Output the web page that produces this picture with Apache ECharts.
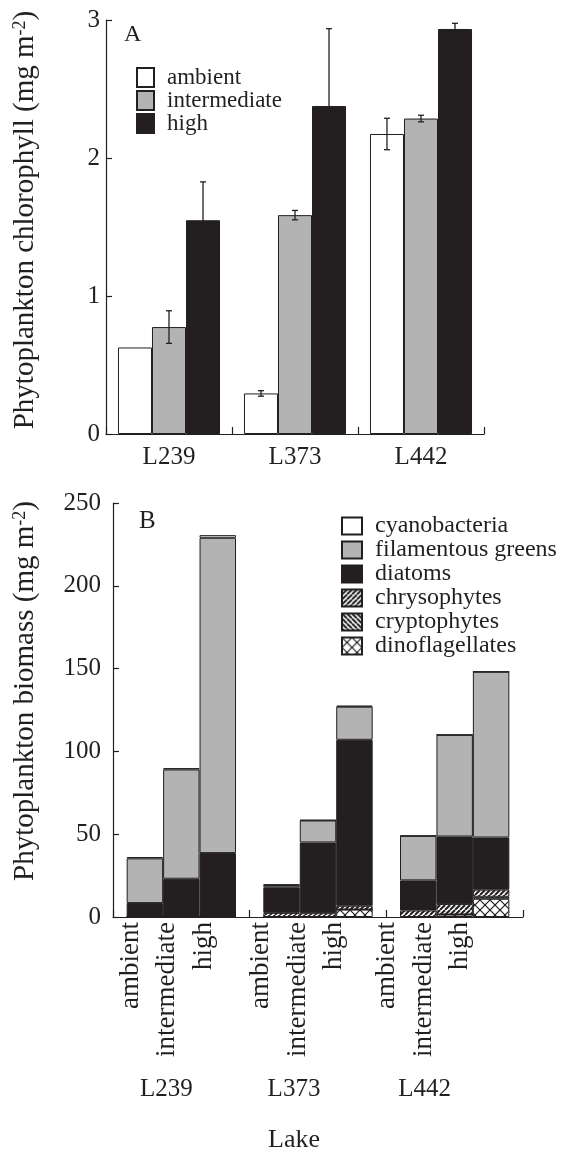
<!DOCTYPE html>
<html><head><meta charset="utf-8">
<script src="https://cdn.jsdelivr.net/npm/echarts@6/dist/echarts.min.js"></script>
<style>html,body{margin:0;padding:0;background:#fff}#c{width:564px;height:1151px}</style>
</head><body><div id="c"></div>
<script>
// ---------- DATA ----------
const lakes = ['L239', 'L373', 'L442'];
const treatments = ['ambient', 'intermediate', 'high'];

// Panel A: phytoplankton chlorophyll (mg m-2), per lake
const chlAmbient      = [0.627, 0.294, 2.174];
const chlIntermediate = [0.775, 1.586, 2.286];
const chlHigh         = [1.549, 2.377, 2.935];
const errAmbient      = [0, 0.02, 0.114];
const errIntermediate = [0.118, 0.034, 0.024];
const errHigh         = [0.278, 0.56, 0.041];
const chlTicks = [0, 1, 2, 3];

// Panel B: biomass (mg m-2); order L239 amb,int,high | L373 amb,int,high | L442 amb,int,high
const cyanobacteria      = [0.8, 0.8, 1.6, 0.3, 0.3, 0.6, 0, 0, 0];
const filamentousGreens  = [27, 66, 190.4, 1.4, 13.3, 20, 26.9, 61.4, 100.1];
const diatoms            = [8.4, 23.1, 38.6, 15.4, 42.7, 100.2, 18.1, 40.8, 31.5];
const chrysophytes       = [0, 0, 0, 2.5, 2.3, 2.3, 4, 6.3, 4.3];
const cryptophytes       = [0, 0, 0, 0, 0, 0, 0, 0, 1.2];
const dinoflagellates    = [0, 0, 0, 0, 0, 4.5, 0, 1.5, 11];
const biomassTicks = [0, 50, 100, 150, 200, 250];
const taxa = ['cyanobacteria', 'filamentous greens', 'diatoms', 'chrysophytes', 'cryptophytes', 'dinoflagellates'];

// ---------- STYLE / LAYOUT ----------
const INK = '#231f20';
const GRAY = '#b3b3b3';
const SERIF = '"Liberation Serif", "Times New Roman", serif';
const catGapA = 0.19, catGapB = 0.20;
const treatLabelShift = [-14, -20, -31]; // px shift of rotated treatment labels per lake
const lakeLabelPad = [30, 48, 60];

function makePattern(kind) {
  const p = kind === 'cross' ? 10 : 5;
  const cv = document.createElement('canvas');
  cv.width = p; cv.height = p;
  const g = cv.getContext('2d');
  g.fillStyle = '#fff'; g.fillRect(0, 0, p, p);
  g.strokeStyle = INK; g.lineWidth = kind === 'cross' ? 1.2 : 2;
  const draw = (up) => {
    for (let k = -1; k <= 1; k++) {
      g.beginPath();
      if (up) { g.moveTo(k * p, p); g.lineTo(k * p + p, 0); }
      else { g.moveTo(k * p, 0); g.lineTo(k * p + p, p); }
      g.stroke();
    }
  };
  if (kind === 'up' || kind === 'cross') draw(true);
  if (kind === 'down' || kind === 'cross') draw(false);
  return { image: cv, repeat: 'repeat' };
}

const taxonValues = {
  'cyanobacteria': cyanobacteria,
  'filamentous greens': filamentousGreens,
  'diatoms': diatoms,
  'chrysophytes': chrysophytes,
  'cryptophytes': cryptophytes,
  'dinoflagellates': dinoflagellates
};
const taxonFill = {
  'cyanobacteria': '#ffffff',
  'filamentous greens': GRAY,
  'diatoms': INK,
  'chrysophytes': makePattern('up'),
  'cryptophytes': makePattern('down'),
  'dinoflagellates': makePattern('cross')
};
const stackOrder = ['dinoflagellates', 'cryptophytes', 'chrysophytes', 'diatoms', 'filamentous greens', 'cyanobacteria'];

const chlMeans = [chlAmbient, chlIntermediate, chlHigh];
const chlErrs = [errAmbient, errIntermediate, errHigh];
const chlFill = ['#ffffff', GRAY, INK];

const series = [];
// Panel A bars
treatments.forEach((t, ti) => {
  series.push({
    type: 'bar', name: t, xAxisIndex: 0, yAxisIndex: 0,
    barGap: '0%', barCategoryGap: (catGapA * 100) + '%',
    itemStyle: { color: chlFill[ti], borderColor: INK, borderWidth: 1 },
    data: chlMeans[ti], z: 2
  });
});
// Panel A error bars
const errData = [];
treatments.forEach((t, ti) => lakes.forEach((l, li) => errData.push([li, chlMeans[ti][li], chlErrs[ti][li], ti])));
series.push({
  type: 'custom', xAxisIndex: 0, yAxisIndex: 0, z: 5, silent: true,
  encode: { x: 0, y: 1 },
  data: errData,
  renderItem: function (params, api) {
    const l = api.value(0), m = api.value(1), e = api.value(2), t = api.value(3);
    if (!e) return;
    const band = api.size([1, 0])[0];
    const gw = band * (1 - catGapA), bw = gw / 3;
    const x = api.coord([l, 0])[0] - gw / 2 + bw * (t + 0.5);
    const y1 = api.coord([l, m + e])[1], y2 = api.coord([l, m - e])[1];
    const c = 3, st = { stroke: INK, lineWidth: 1.3 };
    return { type: 'group', children: [
      { type: 'line', shape: { x1: x, y1: y1, x2: x, y2: y2 }, style: st },
      { type: 'line', shape: { x1: x - c, y1: y1, x2: x + c, y2: y1 }, style: st },
      { type: 'line', shape: { x1: x - c, y1: y2, x2: x + c, y2: y2 }, style: st }
    ]};
  }
});
// Panel B: invisible zero series carrying treatment labels (first in each stack)
treatments.forEach((t, ti) => {
  series.push({
    type: 'bar', name: '_labels', stack: t, xAxisIndex: 1, yAxisIndex: 1,
    barGap: '0%', barCategoryGap: (catGapB * 100) + '%',
    itemStyle: { color: 'rgba(0,0,0,0)', borderWidth: 0 },
    silent: true,
    data: lakes.map((l, li) => ({
      value: 0,
      label: {
        show: true, formatter: t, rotate: 90,
        position: [18 + treatLabelShift[li], 5],
        align: 'right', verticalAlign: 'middle',
        fontFamily: SERIF, fontSize: 27, color: INK
      }
    }))
  });
});
// Panel B stacked taxa
stackOrder.forEach((tx) => {
  treatments.forEach((t, ti) => {
    series.push({
      type: 'bar', name: tx, stack: t, xAxisIndex: 1, yAxisIndex: 1,
      barGap: '0%', barCategoryGap: (catGapB * 100) + '%',
      itemStyle: { color: taxonFill[tx], borderColor: INK, borderWidth: 1 },
      data: lakes.map((l, li) => taxonValues[tx][li * 3 + ti])
    });
  });
});

const axisLineStyle = { show: true, lineStyle: { color: INK, width: 1.2 } };
const tickStyle = { show: true, inside: true, length: 7, lineStyle: { color: INK, width: 1.2 } };

const option = {
  animation: false,
  backgroundColor: '#fff',
  textStyle: { fontFamily: SERIF, color: INK },
  grid: [
    { left: 106, top: 20, width: 378, height: 414, outerBoundsMode: 'none', containLabel: false },
    { left: 113, top: 503, width: 410, height: 414, outerBoundsMode: 'none', containLabel: false }
  ],
  xAxis: [
    {
      type: 'category', gridIndex: 0, data: lakes,
      axisLine: axisLineStyle, axisTick: { ...tickStyle, alignWithLabel: false, interval: 0 },
      axisLabel: { fontFamily: SERIF, fontSize: 25, color: INK, margin: 11 },
      splitLine: { show: false }
    },
    {
      type: 'category', gridIndex: 1, data: lakes,
      axisLine: axisLineStyle, axisTick: { ...tickStyle, alignWithLabel: false, interval: 0 },
      axisLabel: {
        fontFamily: SERIF, fontSize: 25, color: INK, margin: 160,
        formatter: (v, i) => '{s' + i + '|' + v + '}',
        rich: {
          s0: { fontFamily: SERIF, fontSize: 25, color: INK, padding: [0, lakeLabelPad[0], 0, 0] },
          s1: { fontFamily: SERIF, fontSize: 25, color: INK, padding: [0, lakeLabelPad[1], 0, 0] },
          s2: { fontFamily: SERIF, fontSize: 25, color: INK, padding: [0, lakeLabelPad[2], 0, 0] }
        }
      },
      name: 'Lake', nameLocation: 'middle', nameGap: 210,
      nameTextStyle: { fontFamily: SERIF, fontSize: 26, color: INK, padding: [0, 48, 0, 0] },
      splitLine: { show: false }
    }
  ],
  yAxis: [
    {
      type: 'value', gridIndex: 0, min: chlTicks[0], max: chlTicks[chlTicks.length - 1], interval: 1,
      axisLine: axisLineStyle, axisTick: { ...tickStyle, length: 6 },
      axisLabel: { fontFamily: SERIF, fontSize: 25, color: INK, margin: 6 },
      splitLine: { show: false },
      name: 'Phytoplankton chlorophyll (mg m{sup|-2})', nameLocation: 'middle', nameGap: 66,
      nameTextStyle: {
        fontFamily: SERIF, fontSize: 29, color: INK, padding: [0, 0, 0, 14],
        rich: { sup: { fontFamily: SERIF, fontSize: 18, color: INK, verticalAlign: 'top', lineHeight: 29 } }
      }
    },
    {
      type: 'value', gridIndex: 1, min: biomassTicks[0], max: biomassTicks[biomassTicks.length - 1], interval: 50,
      axisLine: axisLineStyle, axisTick: { ...tickStyle, length: 6 },
      axisLabel: { fontFamily: SERIF, fontSize: 25, color: INK, margin: 12 },
      splitLine: { show: false },
      name: 'Phytoplankton biomass (mg m{sup|-2})', nameLocation: 'middle', nameGap: 73,
      nameTextStyle: {
        fontFamily: SERIF, fontSize: 29, color: INK, padding: [0, 0, 0, 38],
        rich: { sup: { fontFamily: SERIF, fontSize: 18, color: INK, verticalAlign: 'top', lineHeight: 29 } }
      }
    }
  ],
  legend: [
    {
      data: treatments, orient: 'vertical', left: 136, top: 66, padding: 0,
      itemWidth: 17, itemHeight: 19, itemGap: 0, icon: 'rect', selectedMode: false,
      textStyle: { fontFamily: SERIF, fontSize: 23, color: INK, padding: [0, 0, 0, 8] }
    },
    {
      data: taxa, orient: 'vertical', left: 341, top: 514, padding: 0,
      itemWidth: 20, itemHeight: 17, itemGap: 0, icon: 'rect', selectedMode: false,
      textStyle: { fontFamily: SERIF, fontSize: 24, color: INK, padding: [0, 0, 0, 8] }
    }
  ],
  graphic: [
    { type: 'text', x: 124, y: 35, style: { text: 'A', font: '24px ' + SERIF, fill: INK, verticalAlign: 'middle' } },
    { type: 'text', x: 139, y: 521, style: { text: 'B', font: '25px ' + SERIF, fill: INK, verticalAlign: 'middle' } }
  ],
  series: series
};

const chart = echarts.init(document.getElementById('c'), null, { renderer: 'canvas', width: 564, height: 1151 });
chart.setOption(option);
</script>
</body></html>
